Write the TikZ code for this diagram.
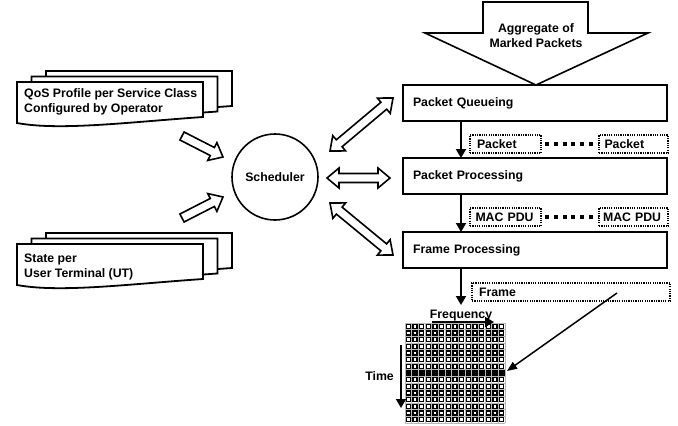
\documentclass[tikz,border=0pt]{standalone}
\usepackage{fontspec}
\setmainfont{Liberation Sans}
\usetikzlibrary{calc,arrows.meta}

% sizes of the hollow block arrows
\def\shw{4.5pt}   % half width of the shaft
\def\hhw{10pt}    % half width of the head
\def\hlen{12pt}   % length of the head

\tikzset{
  every node/.style={font=\fontsize{12.3pt}{15pt}\selectfont\bfseries},
  heavy/.style={line width=1.8pt},
  procbox/.style={draw, heavy, rectangle, anchor=north west, outer sep=0pt,
    minimum width=264pt, minimum height=36pt, text width=244pt,
    inner xsep=10pt, align=left},
  dotbox/.style={draw, line width=1.3pt, dash pattern=on 1.2pt off 1.1pt,
    anchor=north west, outer sep=0pt, minimum height=18pt,
    inner xsep=7pt, inner ysep=0pt, align=left},
  flowarrow/.style={line width=1.8pt, -{Triangle[length=9pt,width=10pt]}},
  thinarrow/.style={line width=1.5pt, -{Triangle[length=10pt,width=8pt]}},
  beads/.style={line width=4pt, dash pattern=on 4pt off 4.8pt},
  blockshape/.style={draw, fill=white, line width=1.6pt, line join=miter},
  docpage/.style={draw, fill=white, heavy},
  cellbox/.style={draw=black, line width=1.3pt},
  textlabel/.style={inner sep=0pt, align=left},
}

% hollow arrow with one head, from #1 to #2
\newcommand\hollowsingle[2]{%
  \draw[blockshape] let \p1=(#1), \p2=(#2), \n1={atan2(\y2-\y1,\x2-\x1)} in
    ($(\p1)+(\n1+90:\shw)$)
    -- ($(\p2)+(\n1:-\hlen)+(\n1+90:\shw)$)
    -- ($(\p2)+(\n1:-\hlen)+(\n1+90:\hhw)$)
    -- (\p2)
    -- ($(\p2)+(\n1:-\hlen)+(\n1-90:\hhw)$)
    -- ($(\p2)+(\n1:-\hlen)+(\n1-90:\shw)$)
    -- ($(\p1)+(\n1-90:\shw)$) -- cycle;}

% hollow arrow with a head at both ends
\newcommand\hollowdouble[2]{%
  \draw[blockshape] let \p1=(#1), \p2=(#2), \n1={atan2(\y2-\y1,\x2-\x1)} in
    (\p1)
    -- ($(\p1)+(\n1:\hlen)+(\n1+90:\hhw)$)
    -- ($(\p1)+(\n1:\hlen)+(\n1+90:\shw)$)
    -- ($(\p2)+(\n1:-\hlen)+(\n1+90:\shw)$)
    -- ($(\p2)+(\n1:-\hlen)+(\n1+90:\hhw)$)
    -- (\p2)
    -- ($(\p2)+(\n1:-\hlen)+(\n1-90:\hhw)$)
    -- ($(\p2)+(\n1:-\hlen)+(\n1-90:\shw)$)
    -- ($(\p1)+(\n1:\hlen)+(\n1-90:\shw)$)
    -- ($(\p1)+(\n1:\hlen)+(\n1-90:\hhw)$) -- cycle;}

% stack of three pages with a wavy lower edge, front page at (#1,#2)
\newcommand\pagestack[2]{%
  \foreach \dx/\dy in {29/-11, 14.5/-5.5, 0/0}{
    \begin{scope}[shift={(#1+\dx,#2+\dy)}]
      \draw[docpage] (0,0) -- (186,0) -- (186,35)
        .. controls (113,40) and (43,49) .. (0,41) -- cycle;
    \end{scope}}}

\begin{document}
\begin{tikzpicture}[x=1pt, y=-1pt]
\useasboundingbox (0,0) rectangle (678,426);

% ---- inputs on the left ----
\pagestack{17}{82}
\node[textlabel, anchor=north west] (qos) at (24,88.2)
  {QoS Profile per Service Class\\Configured by Operator};
\pagestack{17}{244}
\node[textlabel, anchor=north west] (state) at (24,254)
  {State per\\User Terminal (UT)};

% ---- scheduler ----
\node[circle, draw, line width=1.6pt, minimum size=86pt, inner sep=0pt]
  (sched) at (275,177) {Scheduler};

\coordinate (qosA) at (182,136);  \coordinate (qosB) at (223,157);
\coordinate (utA)  at (182,218);  \coordinate (utB)  at (223,197);
\hollowsingle{qosA}{qosB}
\hollowsingle{utA}{utB}

\coordinate (s1a) at (330,151);  \coordinate (s1b) at (393,98);
\coordinate (s2a) at (327,178);  \coordinate (s2b) at (390,178);
\coordinate (s3a) at (330,203);  \coordinate (s3b) at (393,255);
\hollowdouble{s1a}{s1b}
\hollowdouble{s2a}{s2b}
\hollowdouble{s3a}{s3b}

% ---- incoming aggregate ----
\draw[blockshape] (483,2) -- (588,2) -- (588,33) -- (648,33) -- (536,85)
  -- (425,33) -- (483,33) -- cycle;
\node[inner sep=0pt, align=center, anchor=north] (agg) at (536,23)
  {Aggregate of\\Marked Packets};

% ---- processing chain ----
\node[procbox] (pq) at (403,85)  {Packet Queueing};
\node[procbox] (pp) at (403,158) {Packet Processing};
\node[procbox] (fp) at (403,232) {Frame Processing};

\draw[flowarrow] ([xshift=58pt]pq.south west) -- ([xshift=58pt]pp.north west);
\draw[flowarrow] ([xshift=58pt]pp.south west) -- ([xshift=58pt]fp.north west);
\coordinate (fpout) at (461,305);
\draw[flowarrow] ([xshift=58pt]fp.south west) -- (fpout);

\node[dotbox, minimum width=71pt, text width=57pt] (pk1) at (470,135) {Packet};
\node[dotbox, minimum width=69pt, text width=61pt, inner xsep=4pt] (pk2) at (599,135) {\hspace{1.5pt}Packet};
\draw[beads, shorten <=4pt, shorten >=1pt] (pk1.east) -- (pk2.west);

\node[dotbox, minimum width=71pt, text width=63pt, inner xsep=4pt] (mac1) at (470,208) {\hspace{1.5pt}MAC PDU};
\node[dotbox, minimum width=69pt, text width=63pt, inner xsep=3pt] (mac2) at (599,208) {\hspace{1pt}MAC PDU};
\draw[beads, shorten <=4pt, shorten >=1pt] (mac1.east) -- (mac2.west);

\node[dotbox, minimum width=198pt, text width=184pt] (frm) at (472,283) {Frame};

% ---- time/frequency grid ----
\node[minimum size=100pt, inner sep=0pt, outer sep=0pt] (grid) at (455,373) {};
\fill[white] (405,323) rectangle (505,423);
\foreach \r in {0,...,14}{
  \foreach \c in {0,...,14}{
    \draw[cellbox] (405+\c*6.6667+1.4, 323+\r*6.6667+1.4) rectangle ++(3.87,3.87);
  }}
\fill[black] (405,323+7*6.6667) rectangle ++(100,6.6667);
\foreach \i in {0,...,15}{
  \draw[gray!55, line width=0.7pt] (405+\i*6.6667,323) -- ++(0,100);
  \draw[gray!55, line width=0.7pt] (405,323+\i*6.6667) -- ++(100,0);
}

\node[anchor=base] (freq) at (461,318) {Frequency};
\coordinate (fqA) at (432,322);  \coordinate (fqB) at (494,322);
\draw[flowarrow, line width=1.6pt] (fqA) -- (fqB);

\node[anchor=east, inner sep=0pt] (time) at (394,376.5) {Time};
\coordinate (tmA) at (401,345);  \coordinate (tmB) at (401,408);
\draw[flowarrow, line width=1.8pt] (tmA) -- (tmB);

\coordinate (frmA) at (617,293);
\draw[thinarrow] (frmA) -- ([yshift=2pt, xshift=2pt]grid.east);

\end{tikzpicture}
\end{document}
